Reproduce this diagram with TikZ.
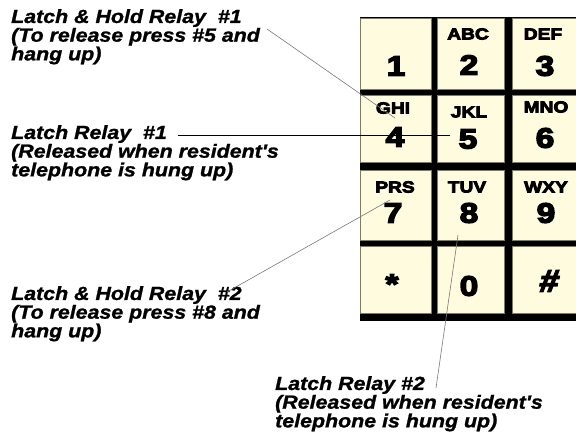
\documentclass[tikz,border=0pt]{standalone}
\usepackage{fontspec}
\setmainfont{Liberation Sans}
\newfontfamily\notefont[FakeStretch=1.125,FakeBold=1.2]{Liberation Sans}
\newfontfamily\keyfont[FakeStretch=1.2,FakeBold=5]{Liberation Sans}
\newfontfamily\hashfont[FakeStretch=1.1,FakeBold=5,FakeSlant=0.15]{Liberation Sans}
\definecolor{keyfill}{RGB}{255,251,222}
\definecolor{keyedge}{RGB}{125,124,98}
\definecolor{leadgray}{RGB}{120,120,120}
\begin{document}
\begin{tikzpicture}[x=1pt,y=-1pt]
\tikzset{
  note/.style={font=\notefont\bfseries\itshape\fontsize{19}{18.7}\selectfont,
    align=left, anchor=north west, inner sep=0pt},
  key/.style={draw=keyedge, line width=1.3pt, fill=keyfill, inner sep=0pt},
  letters/.style={font=\keyfont\bfseries\fontsize{16}{16}\selectfont, inner sep=0pt},
  digit/.style={font=\keyfont\bfseries\fontsize{28}{28}\selectfont, inner sep=0pt},
  leader/.style={draw=leadgray, line width=0.6pt},
  leaderdark/.style={draw=black, line width=0.9pt}
}
\useasboundingbox (0,0) rectangle (576,442);
% keypad frame
\fill[black] (360,17) rectangle (580,321);
% keys: columns c1 [360,432], c2 [437,505], c3 [512,580]
% rows r1 [18,90], r2 [95,163], r3 [170,241], r4 [246,314]
\node[key, minimum width=70.7pt, minimum height=70.7pt] (k1) at (396,54) {};
\node[key, minimum width=66.7pt, minimum height=70.7pt] (k2) at (471,54) {};
\node[key, minimum width=66.7pt, minimum height=70.7pt] (k3) at (546,54) {};
\node[key, minimum width=70.7pt, minimum height=66.7pt] (k4) at (396,129) {};
\node[key, minimum width=66.7pt, minimum height=66.7pt] (k5) at (471,129) {};
\node[key, minimum width=66.7pt, minimum height=66.7pt] (k6) at (546,129) {};
\node[key, minimum width=70.7pt, minimum height=69.7pt] (k7) at (396,205.5) {};
\node[key, minimum width=66.7pt, minimum height=69.7pt] (k8) at (471,205.5) {};
\node[key, minimum width=66.7pt, minimum height=69.7pt] (k9) at (546,205.5) {};
\node[key, minimum width=70.7pt, minimum height=66.7pt] (k10) at (396,280) {};
\node[key, minimum width=66.7pt, minimum height=66.7pt] (k11) at (471,280) {};
\node[key, minimum width=66.7pt, minimum height=66.7pt] (k12) at (546,280) {};
% key labels
\node[letters] (l2) at (468,34) {ABC};
\node[letters] (l3) at (543,34) {DEF};
\node[letters] (l4) at (393,108) {GHI};
\node[letters] (l5) at (469,112) {JKL};
\node[letters] (l6) at (546,107) {MNO};
\node[letters] (l7) at (395,187) {PRS};
\node[letters] (l8) at (467,187) {TUV};
\node[letters] (l9) at (546,187) {WXY};
\node[digit] (d1) at (396,66) {1};
\node[digit] (d2) at (469,65) {2};
\node[digit] (d3) at (545,66) {3};
\node[digit] (d4) at (395,137) {4};
\node[digit] (d5) at (468,139) {5};
\node[digit] (d6) at (545,138) {6};
\node[digit] (d7) at (393,213) {7};
\node[digit] (d8) at (469,213) {8};
\node[digit] (d9) at (546,213) {9};
\node[digit] (dstar) at (392,284) {*};
\node[digit] (d0) at (469,286) {0};
\node[digit, font=\hashfont\bfseries\fontsize{31}{31}\selectfont] (dhash) at (548,281) {\#};
% notes
\node[note] (n1) at (11,9) {Latch \& Hold Relay~ \#1\\(To release press \#5 and\\hang up)};
\node[note] (n2) at (11,125) {Latch Relay~ \#1\\(Released when resident's\\telephone is hung up)};
\node[note] (n3) at (11,286) {Latch \& Hold Relay~ \#2\\(To release press \#8 and\\hang up)};
\node[note] (n4) at (275,376) {Latch Relay \#2\\(Released when resident's\\telephone is hung up)};
% leader lines
\coordinate (a1) at (267,29);
\coordinate (b1) at (395,118);
\coordinate (a2) at (178,135);
\coordinate (b2) at (450,135);
\coordinate (a3) at (227,292);
\coordinate (b3) at (390,200);
\coordinate (a4) at (436,388);
\coordinate (b4) at (458,235);
\draw[leader] (a1) -- (b1);
\draw[leaderdark] (a2) -- (b2);
\draw[leader] (a3) -- (b3);
\draw[leader] (a4) -- (b4);
\end{tikzpicture}
\end{document}
